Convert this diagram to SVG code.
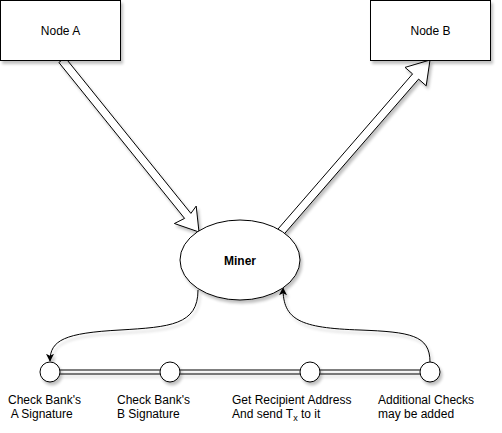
<svg xmlns="http://www.w3.org/2000/svg" width="502" height="433" viewBox="0 0 502 433">
<defs>
<filter id="sh" x="-20%" y="-20%" width="150%" height="150%">
<feGaussianBlur in="SourceAlpha" stdDeviation="1.5"/>
<feOffset dx="2" dy="3" result="o"/>
<feComponentTransfer><feFuncA type="linear" slope="0.25"/></feComponentTransfer>
<feMerge><feMergeNode/><feMergeNode in="SourceGraphic"/></feMerge>
</filter>
<marker id="ah" viewBox="0 0 10 10" refX="9" refY="5" markerWidth="8" markerHeight="8" markerUnits="userSpaceOnUse" orient="auto">
<path d="M0,0 L10,5 L0,10 L2.5,5 Z" fill="#000"/>
</marker>
</defs>
<style>
.box{fill:#fff;stroke:#000;stroke-width:1}
.t{font-family:"Liberation Sans",Arial,sans-serif;font-size:12px;fill:#000}
.c{text-anchor:middle}
.fa{fill:#fff;stroke:#000;stroke-width:1;stroke-linejoin:miter}
.ln{fill:none;stroke:#000;stroke-width:1}
</style>
<rect width="502" height="433" fill="#fff"/>
<g id="connectors" filter="url(#sh)">
<!-- flex arrow A to Miner -->
<path class="fa" d="M58.9,62.5 L184.6,218.4 L174.4,223.5 L199,232 L196.2,206.1 L190.9,213.4 L65.1,57.5 Z"/>
<!-- flex arrow Miner to B -->
<path class="fa" d="M278,229 L412.6,73.9 L405,67.4 L430,60 L426.2,85.8 L418.6,79.1 L284,234.2 Z"/>
<!-- double line chain -->
<path class="ln" d="M60,370 H160 M60,374 H160 M180,370 H300 M180,374 H300 M320,370 H420 M320,374 H420"/>
<path class="ln" d="M198,290 C198,325 170,327 120,330 C65,333 50,340 50,361" marker-end="url(#ah)"/>
<path class="ln" d="M430,362 C430,335 410,332 360,330 C300,328 283,320 283,288" marker-end="url(#ah)"/>
</g>
<g id="nodeA" filter="url(#sh)">
<rect class="box" x="0.5" y="0.5" width="120" height="60"/>
</g>
<text class="t c" x="60.5" y="35">Node A</text>
<g id="nodeB" filter="url(#sh)">
<rect class="box" x="370.5" y="0.5" width="120" height="60"/>
</g>
<text class="t c" x="430.5" y="35">Node B</text>
<g id="miner" filter="url(#sh)">
<ellipse class="box" cx="240" cy="260" rx="60" ry="40"/>
</g>
<text class="t c" x="240" y="265" font-weight="bold">Miner</text>
<g id="check1" filter="url(#sh)">
<circle class="box" cx="50" cy="372" r="10"/>
</g>
<g id="check2" filter="url(#sh)">
<circle class="box" cx="170" cy="372" r="10"/>
</g>
<g id="check3" filter="url(#sh)">
<circle class="box" cx="310" cy="372" r="10"/>
</g>
<g id="check4" filter="url(#sh)">
<circle class="box" cx="430" cy="372" r="10"/>
</g>
<g id="labels">
<text class="t" x="8" y="404">Check Bank's</text>
<text class="t" x="8" y="418" xml:space="preserve"> A Signature</text>
<text class="t" x="117" y="404">Check Bank's</text>
<text class="t" x="117" y="418">B Signature</text>
<text class="t" x="232" y="404">Get Recipient Address</text>
<text class="t" x="232" y="418">And send T<tspan font-size="9" dy="3">x</tspan><tspan dy="-3"> to it</tspan></text>
<text class="t" x="378" y="404">Additional Checks</text>
<text class="t" x="378" y="418">may be added</text>
</g>
</svg>
